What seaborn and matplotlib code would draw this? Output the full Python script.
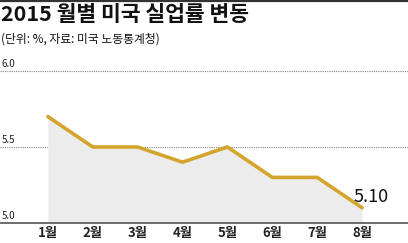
import matplotlib
matplotlib.use("Agg")
import matplotlib.pyplot as plt
import seaborn as sns
import pandas as pd

months = ["1월", "2월", "3월", "4월", "5월", "6월", "7월", "8월"]
rates = [5.7, 5.5, 5.5, 5.4, 5.5, 5.3, 5.3, 5.1]
yticks = [5.0, 5.5, 6.0]
ytick_labels = ["5.0", "5.5", "6.0"]
title = "2015 월별 미국 실업률 변동"
subtitle = "(단위: %, 자료: 미국 노동통계청)"
last_label = "5.10"

sns.set_style("white")
plt.rcParams['font.family'] = ['Noto Sans CJK KR', 'DejaVu Sans']

df = pd.DataFrame({"x": range(len(months)), "rate": rates})

fig = plt.figure(figsize=(4.08, 2.43), dpi=100)
W, H = 408, 243
ax = fig.add_axes([0, (H - 223) / H, 1, 152 / H])

ax.fill_between(df["x"], df["rate"], 5.0, color="#ececec", lw=0, zorder=1)
sns.lineplot(data=df, x="x", y="rate", ax=ax, color="#d4a52c", lw=2.6, zorder=3)

ax.set_xlim(-48 / 45, 7 + 46 / 45)
ax.set_ylim(5.0, 6.0)
ax.set_yticks(yticks)
ax.set_yticklabels([])
ax.tick_params(axis="y", length=0)
ax.yaxis.grid(True, color="#888888", lw=0.8, ls=(0, (1, 1)))
ax.set_axisbelow(True)

for s in ["top", "left", "right"]:
    ax.spines[s].set_visible(False)
ax.spines["bottom"].set_color("#555555")
ax.spines["bottom"].set_linewidth(1.2)

ax.set_xticks(df["x"])
ax.set_xticklabels(months, fontsize=9.5, fontweight="bold", color="#222222")
ax.tick_params(axis="x", direction="inout", length=9, width=0.8, color="#888888", pad=-2)
ax.set_xlabel("")
ax.set_ylabel("")

for v, lab in zip(yticks, ytick_labels):
    ax.text(2 / W, v + 0.01, lab, transform=ax.get_yaxis_transform(), fontsize=7,
            fontweight="medium", ha="left", va="bottom", color="#222222")

ax.text(7 + 9 / 45, rates[-1] + 0.035, last_label, fontsize=13, ha="center",
        va="baseline", color="#111111")

fig.text(1 / W, 1 - 4 / H, title, fontsize=15.5, fontweight="black", ha="left", va="top",
         color="#111111")
fig.text(1 / W, 1 - 33 / H, subtitle, fontsize=8.5, fontweight="medium", ha="left", va="top",
         color="#111111")
fig.add_artist(plt.Line2D([0, 1], [1 - 0.8 / H, 1 - 0.8 / H], color="#333333", lw=1.6,
                          transform=fig.transFigure))

fig.savefig("out.png", dpi=100)
